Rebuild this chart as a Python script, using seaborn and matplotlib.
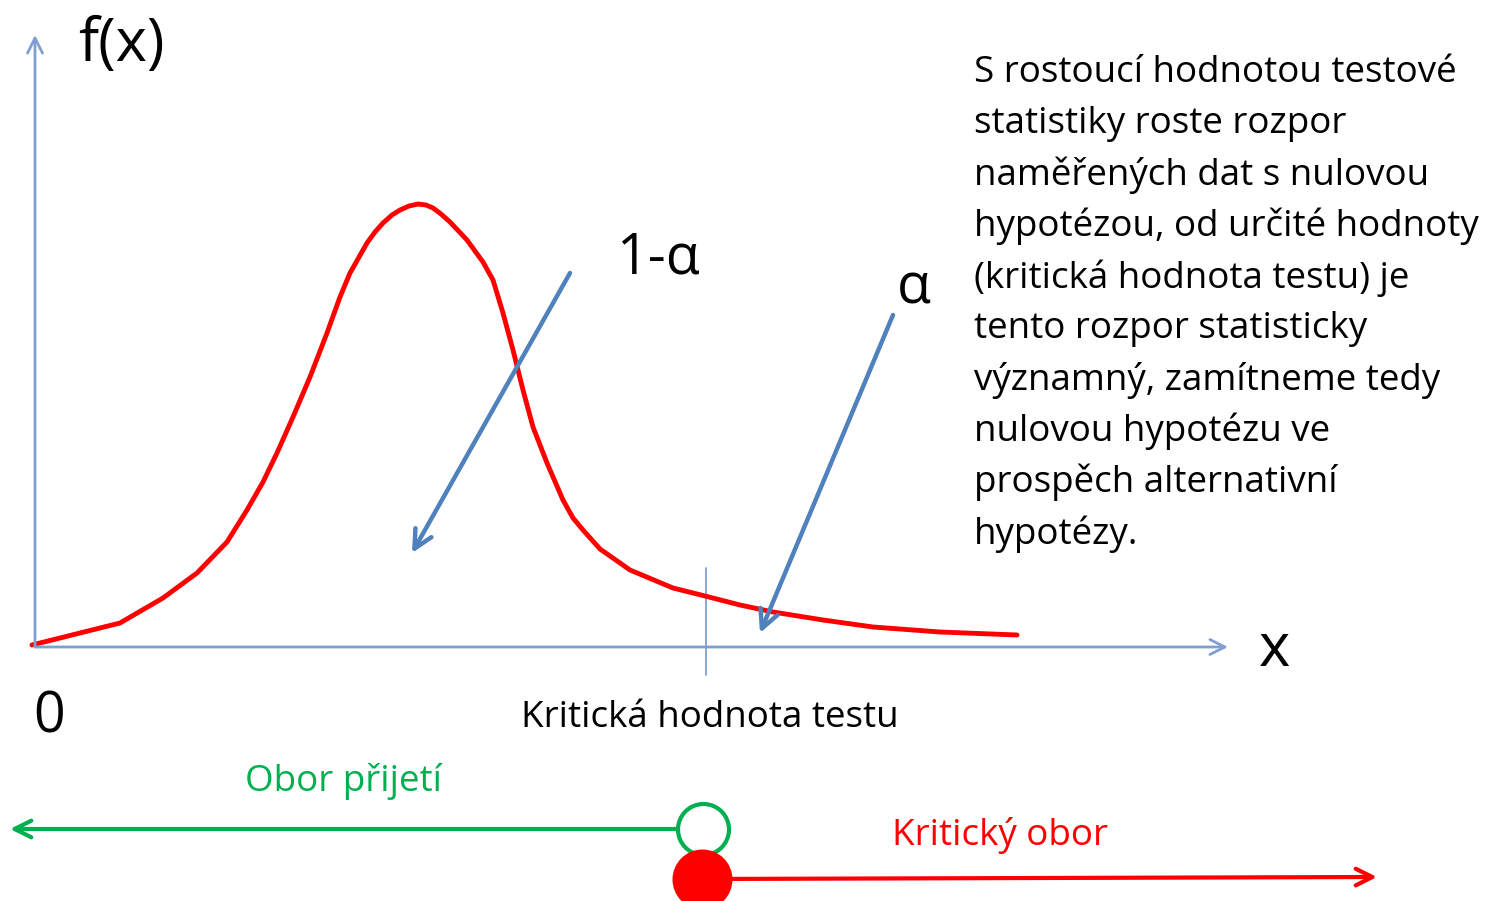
import matplotlib
matplotlib.use("Agg")
import matplotlib.pyplot as plt
import seaborn as sns
import pandas as pd

sns.set_theme(style="white")
plt.rcParams["font.family"] = ["Open Sans", "DejaVu Sans"]

# density curve (pixel frame, y grows downwards)
curve_x = [32, 60, 120, 163, 197, 227, 247, 263, 277, 293, 310, 327, 340, 350, 367,
           375, 383, 392, 400, 409, 418, 426, 433, 441, 450, 467, 483, 493, 503, 513,
           523, 533, 547, 563, 573, 583, 600, 630, 673, 705, 740, 773, 823, 873, 940, 1017]
curve_y = [645, 638, 623, 598, 573, 542, 510, 482, 453, 417, 377, 333, 297, 273, 243,
           232, 223, 215, 210, 206, 204, 205, 208, 214, 222, 240, 262, 280, 313, 350,
           390, 427, 463, 500, 518, 530, 549, 570, 588, 596, 605, 612, 620, 627, 632, 635]

# axes / guide positions
origin = (35, 647)
x_axis_end = 1228
y_axis_end = 35
crit_x = 706

# pointer arrows (start, end)
arrow_accept = [(570, 273), (412, 553)]
arrow_alpha = [(893, 315), (760, 633)]

# region lines below the axis
accept_line = [(703, 829), (10, 829)]
reject_line = [(702, 879), (1377, 877)]

paragraph = [
    "S rostoucí hodnotou testové",
    "statistiky roste rozpor",
    "naměřených dat s nulovou",
    "hypotézou, od určité hodnoty",
    "(kritická hodnota testu) je",
    "tento rozpor statisticky",
    "významný, zamítneme tedy",
    "nulovou hypotézu ve",
    "prospěch alternativní",
    "hypotézy.",
]

blue = "#4f81bd"
axis_blue = "#7f9fd3"
green = "#00b050"
red = "#ff0000"

fig = plt.figure(figsize=(14.96, 9.01), dpi=100)
ax = fig.add_axes([0, 0, 1, 1])

# coordinate axes
ax.annotate("", xy=(origin[0], y_axis_end), xytext=origin,
            arrowprops=dict(arrowstyle="->,head_length=0.9,head_width=0.45", color=axis_blue, lw=2,
                            shrinkA=0, shrinkB=0))
ax.annotate("", xy=(x_axis_end, origin[1]), xytext=origin,
            arrowprops=dict(arrowstyle="->,head_length=0.9,head_width=0.45", color=axis_blue, lw=2,
                            shrinkA=0, shrinkB=0))
ax.plot([crit_x, crit_x], [568, 675], color=axis_blue, lw=1.3)

# red density curve
df = pd.DataFrame({"x": curve_x, "y": curve_y})
sns.lineplot(data=df, x="x", y="y", color=red, lw=3.5, estimator=None, sort=False, ax=ax,
             solid_joinstyle="round", solid_capstyle="round")

# pointer arrows
for start, end in [arrow_accept, arrow_alpha]:
    ax.annotate("", xy=end, xytext=start,
                arrowprops=dict(arrowstyle="->,head_length=1.1,head_width=0.55", color=blue, lw=3.2,
                                shrinkA=0, shrinkB=0))

# acceptance and rejection regions
ax.annotate("", xy=accept_line[1], xytext=accept_line[0],
            arrowprops=dict(arrowstyle="->,head_length=1.0,head_width=0.5", color=green, lw=3,
                            shrinkA=14, shrinkB=0))
ax.annotate("", xy=reject_line[1], xytext=reject_line[0],
            arrowprops=dict(arrowstyle="->,head_length=1.0,head_width=0.5", color=red, lw=3,
                            shrinkA=0, shrinkB=0))
pts = pd.DataFrame({"x": [accept_line[0][0], reject_line[0][0]],
                    "y": [accept_line[0][1], reject_line[0][1]],
                    "kind": ["open", "closed"]})
sns.scatterplot(data=pts[pts.kind == "open"], x="x", y="y", s=1350, facecolor="white",
                edgecolor=green, linewidth=3, ax=ax, zorder=5)
sns.scatterplot(data=pts[pts.kind == "closed"], x="x", y="y", s=1600, color=red,
                edgecolor=red, ax=ax, zorder=5)
ax.set_xlim(0, 1496)
ax.set_ylim(901, 0)
ax.axis("off")

# labels
ax.text(78, 45, "f(x)", fontsize=43, va="center", ha="left", color="black")
ax.text(1259, 650, "x", fontsize=43, va="center", ha="left", color="black")
ax.text(33, 718, "0", fontsize=40, va="center", ha="left", color="black")
ax.text(616, 259, "1-α", fontsize=40, va="center", ha="left", color="black")
ax.text(897, 289, "α", fontsize=40, va="center", ha="left", color="black")
ax.text(521, 718, "Kritická hodnota testu", fontsize=26.5, va="center", ha="left", color="black")
ax.text(343, 781, "Obor přijetí", fontsize=26.5, va="center", ha="center", color=green)
ax.text(892, 836, "Kritický obor", fontsize=26.5, va="center", ha="left", color=red)

for i, line in enumerate(paragraph):
    ax.text(974, 73 + i * 51.2, line, fontsize=26.5, va="center", ha="left", color="black")

fig.savefig("out.png", dpi=100)
